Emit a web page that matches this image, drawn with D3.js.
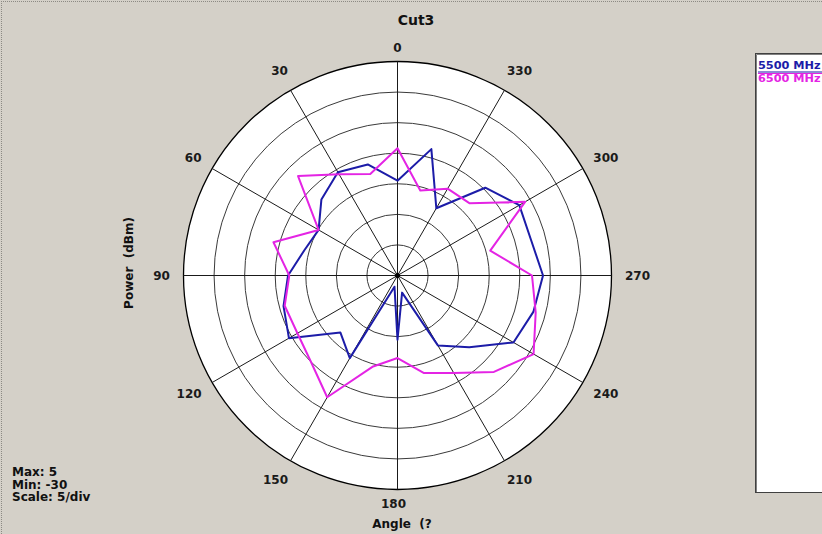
<!DOCTYPE html>
<html>
<head>
<meta charset="utf-8">
<script src="https://cdn.jsdelivr.net/npm/d3@7"></script>
<style>
  html, body { margin: 0; padding: 0; background: #d4d0c8; }
  svg { display: block; }
  text { font-family: "DejaVu Sans", Verdana, sans-serif; font-weight: bold; }
</style>
</head>
<body>
<svg id="chart" width="822" height="534"></svg>
<script>
// ---------- data ----------
const title = "Cut3";
const angles = [0,15,30,45,60,75,90,105,120,135,150,165,180,195,210,225,240,255,270,285,300,315,330,345];
const values5500 = [-14.5,-11.2,-10.5,-12.4,-15.1,-14.2,-12.1,-10.7,-9.5,-16.8,-14.4,-28.1,-19.5,-27.1,-16.8,-13.4,-8.1,-7.0,-6.2,-7.4,-7.0,-9.7,-17.3,-8.6];
const values6500 = [-9.2,-12.8,-10.9,-7.0,-15.1,-9.0,-12.3,-10.9,-11.1,-10.0,-7.0,-14.6,-16.5,-13.5,-11.6,-7.7,-4.3,-6.6,-8.0,-14.3,-5.9,-13.3,-13.6,-15.6];
const seriesNames = ["5500 MHz", "6500 MHz"];
const seriesColors = ["#1c1ca8", "#e424e4"];
const ringValues = [-25,-20,-15,-10,-5,0,5];
const angleTicks = [0,30,60,90,120,150,180,210,240,270,300,330];
const radialMin = -30, radialMax = 5;
const yAxisTitle = "Power  (dBm)";
const xAxisTitle = "Angle  (?";
const infoLines = ["Max: 5", "Min: -30", "Scale: 5/div"];

// ---------- layout ----------
const W = 822, H = 534;
const cx = 397.5, cy = 275.5, R = 214;
const svg = d3.select("#chart");

// page border (dotted)
svg.append("line").attr("x1",1).attr("y1",1.5).attr("x2",W).attr("y2",1.5)
  .attr("stroke","#8c8a84").attr("stroke-dasharray","1,1");
svg.append("line").attr("x1",1.5).attr("y1",1).attr("x2",1.5).attr("y2",H)
  .attr("stroke","#8c8a84").attr("stroke-dasharray","1,1");

const r = d3.scaleLinear().domain([radialMin, radialMax]).range([0, R]);
const a = d3.scaleLinear().domain([0, 360]).range([0, -2 * Math.PI]); // counter-clockwise, 0 at top

const g = svg.append("g").attr("transform", `translate(${cx},${cy})`);

// plot disc
g.append("circle").attr("r", R).attr("fill", "#ffffff");

// rings
g.selectAll("circle.ring").data(ringValues).enter().append("circle")
  .attr("class","ring")
  .attr("r", d => r(d))
  .attr("fill","none")
  .attr("stroke", d => d === radialMax ? "#000" : "#3a3a3a")
  .attr("stroke-width", d => d === radialMax ? 1.3 : 1);

// spokes
g.selectAll("line.spoke").data(angleTicks).enter().append("line")
  .attr("class","spoke")
  .attr("x1",0).attr("y1",0)
  .attr("x2", d => Math.sin(a(d)) * R)
  .attr("y2", d => -Math.cos(a(d)) * R)
  .attr("stroke","#1a1a1a").attr("stroke-width",1);

// angle labels
function labelPos(d) {
  const s = Math.sin(a(d)), c = Math.cos(a(d));
  const vertical = Math.abs(s) < 0.01;
  const L = vertical ? R + 14 : R + 22;
  const extra = String(d).length > 2 ? 4 * Math.sign(s) : 0;
  return [s * L + extra, -c * L];
}
g.selectAll("text.alab").data(angleTicks).enter().append("text")
  .attr("class","alab")
  .attr("x", d => labelPos(d)[0])
  .attr("y", d => labelPos(d)[1])
  .attr("text-anchor","middle").attr("dominant-baseline","central")
  .attr("font-size", 12).attr("fill","#1a1a1a")
  .text(d => d);

// series
const line = d3.lineRadial()
  .angle(d => a(d[0]))
  .radius(d => r(d[1]))
  .curve(d3.curveLinearClosed);

const series = [values5500, values6500].map(vals => angles.map((ang, i) => [ang, vals[i]]));
g.selectAll("path.series").data(series).enter().append("path")
  .attr("class","series")
  .attr("d", line)
  .attr("fill","none")
  .attr("stroke", (d,i) => seriesColors[i])
  .attr("stroke-width", 2)
  .attr("stroke-linejoin","round");

// center dot
g.append("circle").attr("r", 2.5).attr("fill","#000");

// title
svg.append("text").attr("x", 416).attr("y", 20)
  .attr("text-anchor","middle").attr("dominant-baseline","central")
  .attr("font-size", 14).attr("fill","#111").text(title);

// y axis title
svg.append("text")
  .attr("transform", "translate(129,263) rotate(-90)")
  .attr("text-anchor","middle").attr("dominant-baseline","central")
  .attr("font-size", 12).attr("fill","#111")
  .style("white-space","pre")
  .text(yAxisTitle);

// x axis title
svg.append("text").attr("x", 402).attr("y", 524)
  .attr("text-anchor","middle").attr("dominant-baseline","central")
  .attr("font-size", 12).attr("fill","#111")
  .style("white-space","pre")
  .text(xAxisTitle);

// info text
svg.selectAll("text.info").data(infoLines).enter().append("text")
  .attr("class","info")
  .attr("x", 12).attr("y", (d,i) => 472 + i * 12.5)
  .attr("dominant-baseline","central")
  .attr("font-size", 12).attr("fill","#111")
  .text(d => d);

// legend
const lg = svg.append("g");
lg.append("rect").attr("x", 755.5).attr("y", 53.5).attr("width", 80).attr("height", 439)
  .attr("fill","#ffffff").attr("stroke","#404040").attr("stroke-width",1);
lg.append("line").attr("x1",756.5).attr("y1",54.5).attr("x2",822).attr("y2",54.5)
  .attr("stroke","#808080");
lg.append("line").attr("x1",756.5).attr("y1",54.5).attr("x2",756.5).attr("y2",492)
  .attr("stroke","#808080");
seriesNames.forEach((name, i) => {
  lg.append("text").attr("x", 758).attr("y", 65 + i * 13.5)
    .attr("dominant-baseline","central")
    .attr("font-size", 11.3).attr("fill", seriesColors[i])
    .text(name);
  lg.append("line").attr("x1", 758).attr("x2", 822)
    .attr("y1", 72 + i * 1.5).attr("y2", 72 + i * 1.5)
    .attr("stroke", seriesColors[i]).attr("stroke-width", 1.2);
});
</script>
</body>
</html>
